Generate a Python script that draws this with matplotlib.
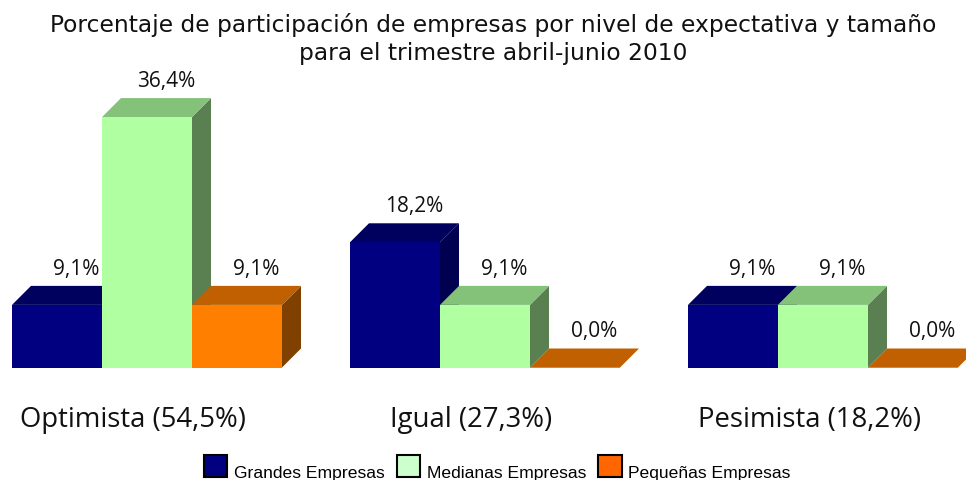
import matplotlib
matplotlib.use("Agg")
import matplotlib.pyplot as plt
from matplotlib.patches import Polygon, Patch

categories = ["Optimista (54,5%)", "Igual (27,3%)", "Pesimista (18,2%)"]
series = ["Grandes Empresas", "Medianas Empresas", "Pequeñas Empresas"]
grandes = [9.1, 18.2, 9.1]
medianas = [36.4, 9.1, 9.1]
pequenas = [9.1, 0.0, 0.0]
title = ("Porcentaje de participación de empresas por nivel de expectativa y tamaño\n"
         "para el trimestre abril-junio 2010")

front = ["#000080", "#B0FFA0", "#FF8000"]
top = ["#00005F", "#84C27A", "#C06000"]
side = ["#000050", "#5A8052", "#804000"]
legend_colors = ["#000080", "#CCFFCC", "#FF6600"]

W, H = 966, 481
BASE = 368.5        # baseline row in pixels
PX_X = 338.0        # pixels per category
PX_Y = 6.88         # pixels per percentage point
BAR = 90.0 / PX_X
DX, DY = 19 / PX_X, 19 / PX_Y
X0 = 133            # pixel of the first category label
OFFSET = 14 / PX_X  # bars sit a little to the right of the label centre

fig = plt.figure(figsize=(W / 100, H / 100), dpi=100, facecolor="white")
ax = fig.add_axes([0, (H - BASE) / H, 1, BASE / H])
ax.set_xlim(-X0 / PX_X, (W - X0) / PX_X)
ax.set_ylim(0, BASE / PX_Y)
for s in ax.spines.values():
    s.set_visible(False)
ax.set_yticks([])
ax.set_xticks(range(len(categories)))
ax.set_xticklabels(categories, fontsize=19.8, family="Open Sans", color="#111111")
ax.tick_params(axis="x", length=0, pad=27)

for cat in range(len(categories)):
    vals = [grandes[cat], medianas[cat], pequenas[cat]]
    for i, v in enumerate(vals):
        left = cat + OFFSET + (i - 1.5) * BAR
        right = left + BAR
        z = 2 + i
        ax.add_patch(Polygon([(right, 0), (right + DX, DY), (right + DX, v + DY), (right, v)],
                             closed=True, fc=side[i], ec="none", zorder=z))
        ax.add_patch(Polygon([(left, v), (left + DX, v + DY), (right + DX, v + DY), (right, v)],
                             closed=True, fc=top[i], ec="none", zorder=z))
        ax.bar(left + BAR / 2, v, width=BAR, color=front[i], zorder=z + 0.5,
               edgecolor=front[i] if v == 0 else "none", linewidth=1.5)
        ax.annotate(f"{v:.1f}%".replace(".", ","),
                    (left + BAR / 2 + DX, v + DY), xytext=(0, 12.6),
                    textcoords="offset points", ha="center", va="center",
                    fontsize=15, family="Open Sans", color="#111111", zorder=10)

fig.text(0.5105, 1 - 39 / H, title, ha="center", va="center", fontsize=16.8,
         family="DejaVu Sans", color="#111111", linespacing=1.27)

handles = [Patch(fc=c, ec="black", lw=1.5) for c in legend_colors]
leg = fig.legend(handles, series, loc="lower center", bbox_to_anchor=(0.5146, -0.0266), ncol=3,
                 frameon=False, prop={"family": "Liberation Sans", "size": 12.6},
                 handlelength=1.35, handleheight=1.6, handletextpad=0.36, columnspacing=0.7)
for t in leg.get_texts():
    t.set_y(-5)

fig.savefig("out.png", dpi=100, facecolor="white")
